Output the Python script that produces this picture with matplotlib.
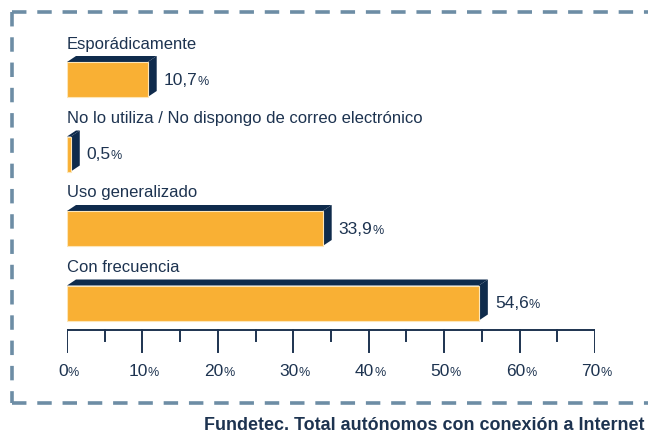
import matplotlib.pyplot as plt
from matplotlib.patches import Polygon, Rectangle
from matplotlib.lines import Line2D

plt.rcParams['font.family'] = ['Liberation Sans', 'DejaVu Sans']

categorias = ["Esporádicamente",
              "No lo utiliza / No dispongo de correo electrónico",
              "Uso generalizado",
              "Con frecuencia"]
valores = [10.7, 0.5, 33.9, 54.6]
etiquetas = ["10,7", "0,5", "33,9", "54,6"]
ticks = [0, 10, 20, 30, 40, 50, 60, 70]
fuente = "Fundetec. Total autónomos con conexión a Internet"

naranja = "#F9B034"
azul = "#0F2B4C"
texto = "#1D3350"
borde = "#6D8DA5"

W, H = 648, 435
fig = plt.figure(figsize=(W / 100, H / 100), dpi=100)

# capa de fondo en pixeles para el marco y la fuente
bg = fig.add_axes([0, 0, 1, 1])
bg.set_xlim(0, W)
bg.set_ylim(H, 0)
bg.axis('off')
estilo = dict(color=borde, lw=2.6, linestyle=(0, (4, 3)))
bg.plot([12, W], [13, 13], **estilo)
bg.plot([12, 12], [13, 404], **estilo)
bg.plot([12, W], [404, 404], **estilo)
bg.text(W - 4, 426, fuente, fontsize=12.9, fontweight='bold', color=texto,
        va='center', ha='right')

# ejes del grafico: x en %, y en pixeles desde arriba
x0, x1 = 67, 595
ax = fig.add_axes([x0 / W, 0, (x1 - x0) / W, 1])
ax.set_xlim(0, 70)
ax.set_ylim(H, 0)
ax.axis('off')
ax.patch.set_alpha(0)

px = 70 / (x1 - x0)  # unidades de datos por pixel
dx, dy = 9 * px, 6
alto = 35

for i, (cat, v, lab) in enumerate(zip(categorias, valores, etiquetas)):
    top = 63 + 74.5 * i
    bot = top + alto
    ax.add_patch(Polygon([(0, top), (v, top), (v + dx, top - dy), (dx, top - dy)],
                         closed=True, facecolor=azul, edgecolor='none'))
    ax.add_patch(Polygon([(v, top), (v + dx, top - dy), (v + dx, bot - dy), (v, bot)],
                         closed=True, facecolor=azul, edgecolor='none'))
    ax.add_patch(Rectangle((0, top), v, alto, facecolor=naranja,
                           edgecolor='#FDE6B8', lw=0.8))
    ax.text(0, top - dy - 13, cat, fontsize=12, color=texto, va='center', ha='left')
    t = ax.text(v + dx + 7 * px, (top + bot) / 2, lab, fontsize=12.5, color=texto,
                va='center', ha='left')
    ax.annotate('%', xy=(1, 0), xycoords=t, fontsize=9, color=texto,
                va='bottom', ha='left')

# eje x dibujado a mano
ya = 331
ax.add_line(Line2D([0, 70], [ya, ya], color=texto, lw=1.4))
for x in range(0, 75, 5):
    largo = 22 if x % 10 == 0 else 11
    ax.add_line(Line2D([x, x], [ya, ya + largo], color=texto, lw=1.4))
for x in ticks:
    t = ax.annotate(str(x), xy=(x, 372), xytext=(-3, 0), textcoords='offset points',
                    fontsize=12.5, color=texto, va='center', ha='center')
    ax.annotate('%', xy=(1, 0), xycoords=t, fontsize=9, color=texto,
                va='bottom', ha='left')

fig.savefig("out.png", dpi=100)
